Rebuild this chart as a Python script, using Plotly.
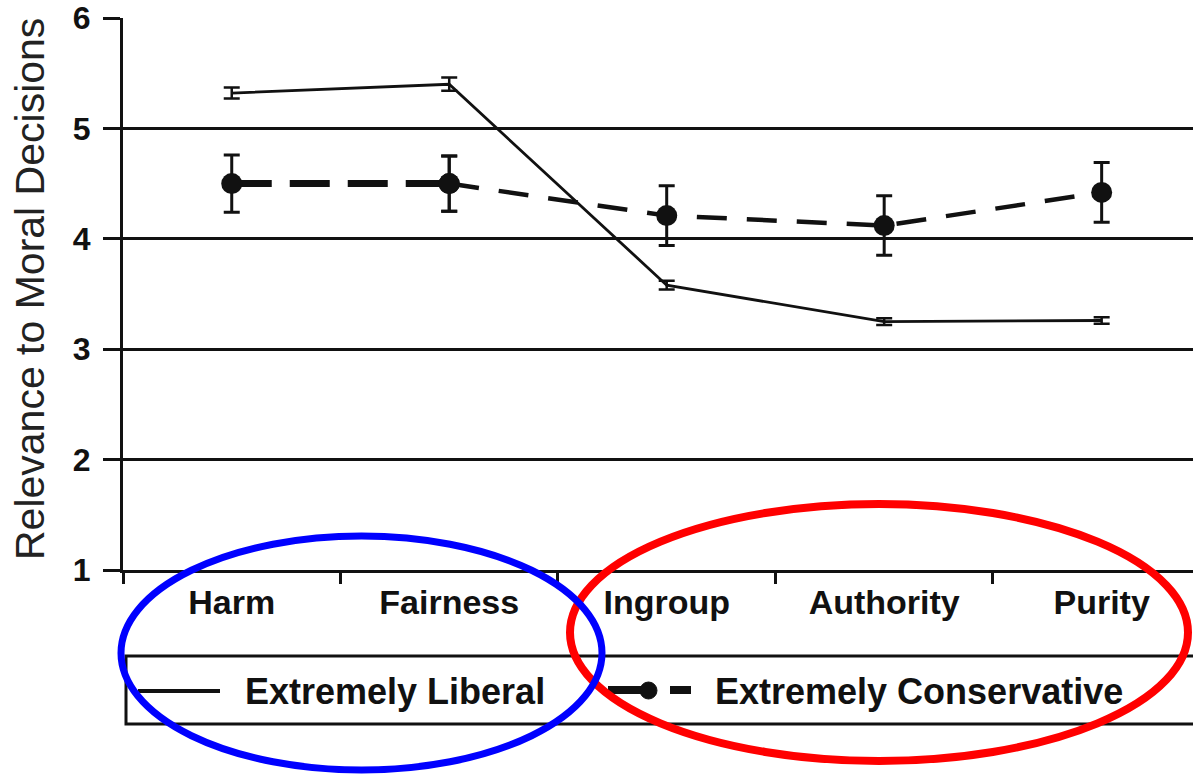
import plotly.graph_objects as go

# ---- data ----
categories = ["Harm", "Fairness", "Ingroup", "Authority", "Purity"]
liberal = [5.32, 5.40, 3.58, 3.25, 3.26]
liberal_err = [0.05, 0.06, 0.04, 0.03, 0.03]
conservative = [4.50, 4.50, 4.21, 4.12, 4.42]
conservative_err = [0.26, 0.25, 0.27, 0.27, 0.27]
y_ticks = [1, 2, 3, 4, 5, 6]
series_names = ["Extremely Liberal", "Extremely Conservative"]
y_title = "Relevance to Moral Decisions"

# ---- layout helpers (pixels -> paper) ----
W, H = 1193, 776
L, R, T, B = 123, 0, 18, 206
PW, PH = W - L - R, H - T - B


def px(x):
    return (x - L) / PW


def py(y):
    return (H - B - y) / PH


FONT = "Liberation Sans, Arial, Helvetica, sans-serif"
INK = "#111111"

fig = go.Figure()

# conservative: thick first segment, thinner remainder
fig.add_trace(go.Scatter(
    x=categories[:2], y=conservative[:2],
    mode="lines+markers",
    line=dict(color=INK, width=7, dash="40px,18px"),
    marker=dict(color=INK, size=21, symbol="circle"),
    error_y=dict(type="data", array=conservative_err[:2], color=INK, thickness=3, width=8),
    showlegend=False, hoverinfo="skip",
))
fig.add_trace(go.Scatter(
    x=categories[1:], y=conservative[1:],
    mode="lines+markers",
    line=dict(color=INK, width=4.5, dash="30px,20px"),
    marker=dict(color=INK, size=21, symbol="circle"),
    error_y=dict(type="data", array=conservative_err[1:], color=INK, thickness=3, width=8),
    showlegend=False, hoverinfo="skip",
))
# liberal
fig.add_trace(go.Scatter(
    x=categories, y=liberal,
    mode="lines",
    line=dict(color=INK, width=2.8),
    error_y=dict(type="data", array=liberal_err, color=INK, thickness=2.5, width=8),
    showlegend=False, hoverinfo="skip",
))

shapes = []
# legend box (top, left, bottom; right edge runs off the canvas)
shapes.append(dict(type="rect", xref="paper", yref="paper",
                   x0=px(126), x1=px(1215), y0=py(724), y1=py(656),
                   line=dict(color=INK, width=3), fillcolor="rgba(0,0,0,0)"))
# legend glyph: liberal
shapes.append(dict(type="line", xref="paper", yref="paper",
                   x0=px(138), x1=px(220), y0=py(691), y1=py(691),
                   line=dict(color=INK, width=4)))
# legend glyph: conservative
shapes.append(dict(type="line", xref="paper", yref="paper",
                   x0=px(608), x1=px(648), y0=py(690), y1=py(690),
                   line=dict(color=INK, width=8)))
shapes.append(dict(type="circle", xref="paper", yref="paper",
                   x0=px(640), x1=px(657), y0=py(699), y1=py(682),
                   line=dict(color=INK, width=1), fillcolor=INK))
shapes.append(dict(type="line", xref="paper", yref="paper",
                   x0=px(670), x1=px(691), y0=py(690), y1=py(690),
                   line=dict(color=INK, width=8)))
# highlight ellipses
shapes.append(dict(type="circle", xref="paper", yref="paper",
                   x0=px(570), x1=px(1188), y0=py(761), y1=py(504),
                   line=dict(color="#FF0000", width=8), fillcolor="rgba(0,0,0,0)"))
shapes.append(dict(type="circle", xref="paper", yref="paper",
                   x0=px(121), x1=px(602), y0=py(770), y1=py(536),
                   line=dict(color="#0000FF", width=7), fillcolor="rgba(0,0,0,0)"))

annotations = [
    dict(text=y_title, xref="paper", yref="paper", x=px(30), y=py(289),
         xanchor="center", yanchor="middle", textangle=-90, showarrow=False,
         font=dict(family=FONT, size=41, color="#222222")),
    dict(text=series_names[0], xref="paper", yref="paper", x=px(243), y=py(691),
         xanchor="left", yanchor="middle", showarrow=False,
         font=dict(family=FONT, size=36, color=INK, weight="bold")),
    dict(text=series_names[1], xref="paper", yref="paper", x=px(713), y=py(691),
         xanchor="left", yanchor="middle", showarrow=False,
         font=dict(family=FONT, size=36, color=INK, weight="bold")),
]

fig.update_layout(
    width=W, height=H,
    margin=dict(l=L, r=R, t=T, b=B, pad=0),
    paper_bgcolor="white", plot_bgcolor="white",
    showlegend=False,
    shapes=shapes, annotations=annotations,
    xaxis=dict(
        type="category", categoryorder="array", categoryarray=categories,
        range=[-0.5, 4.42], tickson="boundaries",
        ticks="outside", ticklen=11, tickwidth=3, tickcolor=INK,
        showline=True, linewidth=3, linecolor=INK, showgrid=False,
        tickfont=dict(family=FONT, size=34, color=INK, weight="bold"),
        ticklabelstandoff=0,
    ),
    yaxis=dict(
        range=[1, 6], tickvals=y_ticks, ticktext=[str(v) for v in y_ticks],
        ticks="outside", ticklen=17, tickwidth=3, tickcolor=INK,
        showline=True, linewidth=3, linecolor=INK,
        showgrid=True, gridcolor=INK, gridwidth=3, zeroline=False,
        tickfont=dict(family=FONT, size=32, color=INK, weight="bold"),
        ticklabelstandoff=6,
    ),
)

fig.write_html(
    "out.html",
    config={"displayModeBar": False},
    post_script="document.body.style.margin='0';document.body.style.overflow='hidden';",
)
